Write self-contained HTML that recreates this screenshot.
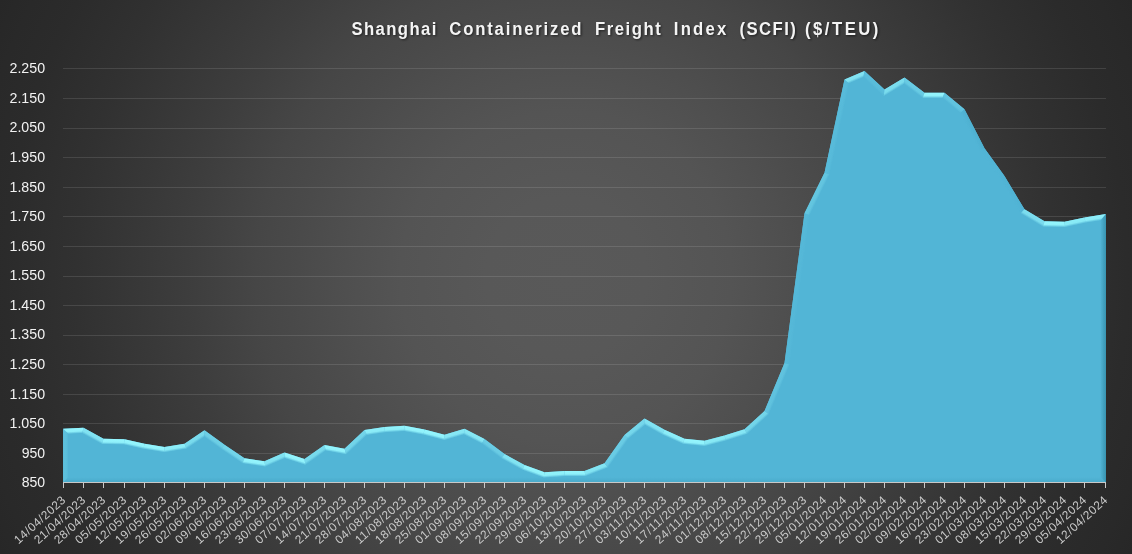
<!DOCTYPE html>
<html><head><meta charset="utf-8"><title>Shanghai Containerized Freight Index (SCFI)</title>
<style>
html,body{margin:0;padding:0;background:#2a2a2a;}
body{width:1132px;height:554px;overflow:hidden;font-family:"Liberation Sans",sans-serif;}
svg{display:block}
text{font-family:"Liberation Sans",sans-serif;}
</style></head><body>
<svg width="1132" height="554" viewBox="0 0 1132 554">
<defs>
<radialGradient id="bg" gradientUnits="userSpaceOnUse" cx="566" cy="277" r="630.2">
<stop offset="0.0000" stop-color="rgb(89,89,89)"/>
<stop offset="0.1269" stop-color="rgb(88,88,88)"/>
<stop offset="0.2634" stop-color="rgb(84,84,84)"/>
<stop offset="0.3491" stop-color="rgb(79,79,79)"/>
<stop offset="0.4253" stop-color="rgb(74,74,74)"/>
<stop offset="0.4919" stop-color="rgb(70,70,70)"/>
<stop offset="0.5411" stop-color="rgb(66,66,66)"/>
<stop offset="0.6030" stop-color="rgb(61,61,61)"/>
<stop offset="0.6601" stop-color="rgb(57,57,57)"/>
<stop offset="0.7775" stop-color="rgb(49,49,49)"/>
<stop offset="0.8902" stop-color="rgb(43,43,43)"/>
<stop offset="0.9521" stop-color="rgb(41,41,41)"/>
<stop offset="1.0000" stop-color="rgb(39,39,39)"/>
</radialGradient>
<clipPath id="ac"><polygon points="63.10,482.55 63.10,428.75 83.50,427.73 103.50,438.81 124.50,439.24 144.50,443.64 164.50,446.91 184.50,443.64 204.50,430.22 224.50,444.71 244.50,458.23 264.50,461.20 284.50,452.50 304.50,458.99 324.50,444.93 344.50,448.69 364.50,430.06 384.50,427.07 404.50,425.81 424.50,429.54 444.50,434.64 464.50,428.74 484.50,438.96 504.50,453.96 524.50,464.93 544.50,472.31 564.50,470.92 584.50,470.92 604.50,463.17 624.50,435.00 644.50,418.59 664.50,429.76 684.50,438.76 704.50,440.75 724.50,435.53 744.50,429.18 764.50,410.98 784.50,363.07 804.50,213.34 824.50,172.66 844.50,79.38 864.50,70.89 884.50,89.61 904.50,77.38 924.50,92.64 944.50,92.64 964.50,109.37 984.50,148.18 1004.50,175.89 1024.50,209.37 1044.50,221.35 1064.50,221.82 1084.50,217.53 1105.90,214.09 1105.90,482.55"/></clipPath>
<filter id="b1" x="-5%" y="-5%" width="110%" height="110%"><feGaussianBlur stdDeviation="0.4"/></filter>
<filter id="ts" x="-5%" y="-50%" width="110%" height="200%"><feGaussianBlur stdDeviation="1.2"/></filter>
</defs>
<rect width="1132" height="554" fill="url(#bg)"/>

<g stroke="#ffffff" stroke-opacity="0.115" stroke-width="1" shape-rendering="crispEdges">
<line x1="63" y1="453.5" x2="1106" y2="453.5"/>
<line x1="63" y1="423.5" x2="1106" y2="423.5"/>
<line x1="63" y1="394.5" x2="1106" y2="394.5"/>
<line x1="63" y1="364.5" x2="1106" y2="364.5"/>
<line x1="63" y1="335.5" x2="1106" y2="335.5"/>
<line x1="63" y1="305.5" x2="1106" y2="305.5"/>
<line x1="63" y1="276.5" x2="1106" y2="276.5"/>
<line x1="63" y1="246.5" x2="1106" y2="246.5"/>
<line x1="63" y1="216.5" x2="1106" y2="216.5"/>
<line x1="63" y1="187.5" x2="1106" y2="187.5"/>
<line x1="63" y1="157.5" x2="1106" y2="157.5"/>
<line x1="63" y1="128.5" x2="1106" y2="128.5"/>
<line x1="63" y1="98.5" x2="1106" y2="98.5"/>
<line x1="63" y1="68.5" x2="1106" y2="68.5"/>
</g>
<polygon points="63.10,482.55 63.10,428.75 83.50,427.73 103.50,438.81 124.50,439.24 144.50,443.64 164.50,446.91 184.50,443.64 204.50,430.22 224.50,444.71 244.50,458.23 264.50,461.20 284.50,452.50 304.50,458.99 324.50,444.93 344.50,448.69 364.50,430.06 384.50,427.07 404.50,425.81 424.50,429.54 444.50,434.64 464.50,428.74 484.50,438.96 504.50,453.96 524.50,464.93 544.50,472.31 564.50,470.92 584.50,470.92 604.50,463.17 624.50,435.00 644.50,418.59 664.50,429.76 684.50,438.76 704.50,440.75 724.50,435.53 744.50,429.18 764.50,410.98 784.50,363.07 804.50,213.34 824.50,172.66 844.50,79.38 864.50,70.89 884.50,89.61 904.50,77.38 924.50,92.64 944.50,92.64 964.50,109.37 984.50,148.18 1004.50,175.89 1024.50,209.37 1044.50,221.35 1064.50,221.82 1084.50,217.53 1105.90,214.09 1105.90,482.55" fill="#52B5D6"/>
<defs><linearGradient id="g0" gradientUnits="userSpaceOnUse" x1="63.10" y1="455.65" x2="68.70" y2="455.65"><stop offset="0" stop-color="#5dc0dc"/><stop offset="0.58" stop-color="#5dc0dc" stop-opacity="0.9"/><stop offset="1" stop-color="#5dc0dc" stop-opacity="0"/></linearGradient><linearGradient id="g1" gradientUnits="userSpaceOnUse" x1="73.30" y1="428.24" x2="73.58" y2="433.83"><stop offset="0" stop-color="#94f5fd"/><stop offset="0.58" stop-color="#94f5fd" stop-opacity="0.9"/><stop offset="1" stop-color="#94f5fd" stop-opacity="0"/></linearGradient><linearGradient id="g2" gradientUnits="userSpaceOnUse" x1="93.50" y1="433.27" x2="90.79" y2="438.17"><stop offset="0" stop-color="#83e5f3"/><stop offset="0.58" stop-color="#83e5f3" stop-opacity="0.9"/><stop offset="1" stop-color="#83e5f3" stop-opacity="0"/></linearGradient><linearGradient id="g3" gradientUnits="userSpaceOnUse" x1="114.00" y1="439.03" x2="113.89" y2="444.63"><stop offset="0" stop-color="#96f7fe"/><stop offset="0.58" stop-color="#96f7fe" stop-opacity="0.9"/><stop offset="1" stop-color="#96f7fe" stop-opacity="0"/></linearGradient><linearGradient id="g4" gradientUnits="userSpaceOnUse" x1="134.50" y1="441.44" x2="133.30" y2="446.91"><stop offset="0" stop-color="#96f7fe"/><stop offset="0.58" stop-color="#96f7fe" stop-opacity="0.9"/><stop offset="1" stop-color="#96f7fe" stop-opacity="0"/></linearGradient><linearGradient id="g5" gradientUnits="userSpaceOnUse" x1="154.50" y1="445.28" x2="153.60" y2="450.80"><stop offset="0" stop-color="#96f7fe"/><stop offset="0.58" stop-color="#96f7fe" stop-opacity="0.9"/><stop offset="1" stop-color="#96f7fe" stop-opacity="0"/></linearGradient><linearGradient id="g6" gradientUnits="userSpaceOnUse" x1="174.50" y1="445.28" x2="175.40" y2="450.80"><stop offset="0" stop-color="#8ff0fa"/><stop offset="0.58" stop-color="#8ff0fa" stop-opacity="0.9"/><stop offset="1" stop-color="#8ff0fa" stop-opacity="0"/></linearGradient><linearGradient id="g7" gradientUnits="userSpaceOnUse" x1="194.50" y1="436.93" x2="197.62" y2="441.58"><stop offset="0" stop-color="#7bddee"/><stop offset="0.58" stop-color="#7bddee" stop-opacity="0.9"/><stop offset="1" stop-color="#7bddee" stop-opacity="0"/></linearGradient><linearGradient id="g8" gradientUnits="userSpaceOnUse" x1="214.50" y1="437.47" x2="211.21" y2="442.00"><stop offset="0" stop-color="#6ed0e6"/><stop offset="0.58" stop-color="#6ed0e6" stop-opacity="0.9"/><stop offset="1" stop-color="#6ed0e6" stop-opacity="0"/></linearGradient><linearGradient id="g9" gradientUnits="userSpaceOnUse" x1="234.50" y1="451.47" x2="231.36" y2="456.11"><stop offset="0" stop-color="#74d6ea"/><stop offset="0.58" stop-color="#74d6ea" stop-opacity="0.9"/><stop offset="1" stop-color="#74d6ea" stop-opacity="0"/></linearGradient><linearGradient id="g10" gradientUnits="userSpaceOnUse" x1="254.50" y1="459.71" x2="253.68" y2="465.25"><stop offset="0" stop-color="#96f7fe"/><stop offset="0.58" stop-color="#96f7fe" stop-opacity="0.9"/><stop offset="1" stop-color="#96f7fe" stop-opacity="0"/></linearGradient><linearGradient id="g11" gradientUnits="userSpaceOnUse" x1="274.50" y1="456.85" x2="276.73" y2="461.99"><stop offset="0" stop-color="#83e5f3"/><stop offset="0.58" stop-color="#83e5f3" stop-opacity="0.9"/><stop offset="1" stop-color="#83e5f3" stop-opacity="0"/></linearGradient><linearGradient id="g12" gradientUnits="userSpaceOnUse" x1="294.50" y1="455.75" x2="292.77" y2="461.07"><stop offset="0" stop-color="#96f7fe"/><stop offset="0.58" stop-color="#96f7fe" stop-opacity="0.9"/><stop offset="1" stop-color="#96f7fe" stop-opacity="0"/></linearGradient><linearGradient id="g13" gradientUnits="userSpaceOnUse" x1="314.50" y1="451.96" x2="317.72" y2="456.54"><stop offset="0" stop-color="#7adcee"/><stop offset="0.58" stop-color="#7adcee" stop-opacity="0.9"/><stop offset="1" stop-color="#7adcee" stop-opacity="0"/></linearGradient><linearGradient id="g14" gradientUnits="userSpaceOnUse" x1="334.50" y1="446.81" x2="333.47" y2="452.32"><stop offset="0" stop-color="#96f7fe"/><stop offset="0.58" stop-color="#96f7fe" stop-opacity="0.9"/><stop offset="1" stop-color="#96f7fe" stop-opacity="0"/></linearGradient><linearGradient id="g15" gradientUnits="userSpaceOnUse" x1="354.50" y1="439.38" x2="358.32" y2="443.47"><stop offset="0" stop-color="#74d6ea"/><stop offset="0.58" stop-color="#74d6ea" stop-opacity="0.9"/><stop offset="1" stop-color="#74d6ea" stop-opacity="0"/></linearGradient><linearGradient id="g16" gradientUnits="userSpaceOnUse" x1="374.50" y1="428.56" x2="375.33" y2="434.10"><stop offset="0" stop-color="#8ff0fa"/><stop offset="0.58" stop-color="#8ff0fa" stop-opacity="0.9"/><stop offset="1" stop-color="#8ff0fa" stop-opacity="0"/></linearGradient><linearGradient id="g17" gradientUnits="userSpaceOnUse" x1="394.50" y1="426.44" x2="394.85" y2="432.03"><stop offset="0" stop-color="#93f4fc"/><stop offset="0.58" stop-color="#93f4fc" stop-opacity="0.9"/><stop offset="1" stop-color="#93f4fc" stop-opacity="0"/></linearGradient><linearGradient id="g18" gradientUnits="userSpaceOnUse" x1="414.50" y1="427.67" x2="413.48" y2="433.18"><stop offset="0" stop-color="#96f7fe"/><stop offset="0.58" stop-color="#96f7fe" stop-opacity="0.9"/><stop offset="1" stop-color="#96f7fe" stop-opacity="0"/></linearGradient><linearGradient id="g19" gradientUnits="userSpaceOnUse" x1="434.50" y1="432.09" x2="433.11" y2="437.52"><stop offset="0" stop-color="#96f7fe"/><stop offset="0.58" stop-color="#96f7fe" stop-opacity="0.9"/><stop offset="1" stop-color="#96f7fe" stop-opacity="0"/></linearGradient><linearGradient id="g20" gradientUnits="userSpaceOnUse" x1="454.50" y1="431.69" x2="456.09" y2="437.06"><stop offset="0" stop-color="#89eaf6"/><stop offset="0.58" stop-color="#89eaf6" stop-opacity="0.9"/><stop offset="1" stop-color="#89eaf6" stop-opacity="0"/></linearGradient><linearGradient id="g21" gradientUnits="userSpaceOnUse" x1="474.50" y1="433.85" x2="471.95" y2="438.84"><stop offset="0" stop-color="#89eaf6"/><stop offset="0.58" stop-color="#89eaf6" stop-opacity="0.9"/><stop offset="1" stop-color="#89eaf6" stop-opacity="0"/></linearGradient><linearGradient id="g22" gradientUnits="userSpaceOnUse" x1="494.50" y1="446.46" x2="491.14" y2="450.94"><stop offset="0" stop-color="#6bcde5"/><stop offset="0.58" stop-color="#6bcde5" stop-opacity="0.9"/><stop offset="1" stop-color="#6bcde5" stop-opacity="0"/></linearGradient><linearGradient id="g23" gradientUnits="userSpaceOnUse" x1="514.50" y1="459.45" x2="511.81" y2="464.36"><stop offset="0" stop-color="#84e6f3"/><stop offset="0.58" stop-color="#84e6f3" stop-opacity="0.9"/><stop offset="1" stop-color="#84e6f3" stop-opacity="0"/></linearGradient><linearGradient id="g24" gradientUnits="userSpaceOnUse" x1="534.50" y1="468.62" x2="532.56" y2="473.88"><stop offset="0" stop-color="#95f6fd"/><stop offset="0.58" stop-color="#95f6fd" stop-opacity="0.9"/><stop offset="1" stop-color="#95f6fd" stop-opacity="0"/></linearGradient><linearGradient id="g25" gradientUnits="userSpaceOnUse" x1="554.50" y1="471.61" x2="554.89" y2="477.20"><stop offset="0" stop-color="#93f4fc"/><stop offset="0.58" stop-color="#93f4fc" stop-opacity="0.9"/><stop offset="1" stop-color="#93f4fc" stop-opacity="0"/></linearGradient><linearGradient id="g26" gradientUnits="userSpaceOnUse" x1="574.50" y1="470.92" x2="574.50" y2="476.52"><stop offset="0" stop-color="#96f7fe"/><stop offset="0.58" stop-color="#96f7fe" stop-opacity="0.9"/><stop offset="1" stop-color="#96f7fe" stop-opacity="0"/></linearGradient><linearGradient id="g27" gradientUnits="userSpaceOnUse" x1="594.50" y1="467.04" x2="596.52" y2="472.26"><stop offset="0" stop-color="#85e7f4"/><stop offset="0.58" stop-color="#85e7f4" stop-opacity="0.9"/><stop offset="1" stop-color="#85e7f4" stop-opacity="0"/></linearGradient><linearGradient id="g28" gradientUnits="userSpaceOnUse" x1="614.50" y1="449.08" x2="619.07" y2="452.32"><stop offset="0" stop-color="#6bcde5"/><stop offset="0.58" stop-color="#6bcde5" stop-opacity="0.9"/><stop offset="1" stop-color="#6bcde5" stop-opacity="0"/></linearGradient><linearGradient id="g29" gradientUnits="userSpaceOnUse" x1="634.50" y1="426.79" x2="638.05" y2="431.12"><stop offset="0" stop-color="#77d9ec"/><stop offset="0.58" stop-color="#77d9ec" stop-opacity="0.9"/><stop offset="1" stop-color="#77d9ec" stop-opacity="0"/></linearGradient><linearGradient id="g30" gradientUnits="userSpaceOnUse" x1="654.50" y1="424.18" x2="651.77" y2="429.07"><stop offset="0" stop-color="#83e4f3"/><stop offset="0.58" stop-color="#83e4f3" stop-opacity="0.9"/><stop offset="1" stop-color="#83e4f3" stop-opacity="0"/></linearGradient><linearGradient id="g31" gradientUnits="userSpaceOnUse" x1="674.50" y1="434.26" x2="672.20" y2="439.37"><stop offset="0" stop-color="#8ff0fa"/><stop offset="0.58" stop-color="#8ff0fa" stop-opacity="0.9"/><stop offset="1" stop-color="#8ff0fa" stop-opacity="0"/></linearGradient><linearGradient id="g32" gradientUnits="userSpaceOnUse" x1="694.50" y1="439.75" x2="693.95" y2="445.33"><stop offset="0" stop-color="#96f7fe"/><stop offset="0.58" stop-color="#96f7fe" stop-opacity="0.9"/><stop offset="1" stop-color="#96f7fe" stop-opacity="0"/></linearGradient><linearGradient id="g33" gradientUnits="userSpaceOnUse" x1="714.50" y1="438.14" x2="715.91" y2="443.56"><stop offset="0" stop-color="#8aecf7"/><stop offset="0.58" stop-color="#8aecf7" stop-opacity="0.9"/><stop offset="1" stop-color="#8aecf7" stop-opacity="0"/></linearGradient><linearGradient id="g34" gradientUnits="userSpaceOnUse" x1="734.50" y1="432.35" x2="736.19" y2="437.69"><stop offset="0" stop-color="#88e9f6"/><stop offset="0.58" stop-color="#88e9f6" stop-opacity="0.9"/><stop offset="1" stop-color="#88e9f6" stop-opacity="0"/></linearGradient><linearGradient id="g35" gradientUnits="userSpaceOnUse" x1="754.50" y1="420.08" x2="758.27" y2="424.22"><stop offset="0" stop-color="#75d7ea"/><stop offset="0.58" stop-color="#75d7ea" stop-opacity="0.9"/><stop offset="1" stop-color="#75d7ea" stop-opacity="0"/></linearGradient><linearGradient id="g36" gradientUnits="userSpaceOnUse" x1="774.50" y1="387.02" x2="779.67" y2="389.18"><stop offset="0" stop-color="#61c3df"/><stop offset="0.58" stop-color="#61c3df" stop-opacity="0.9"/><stop offset="1" stop-color="#61c3df" stop-opacity="0"/></linearGradient><linearGradient id="g37" gradientUnits="userSpaceOnUse" x1="794.50" y1="288.20" x2="800.05" y2="288.94"><stop offset="0" stop-color="#55b8d8"/><stop offset="0.58" stop-color="#55b8d8" stop-opacity="0.9"/><stop offset="1" stop-color="#55b8d8" stop-opacity="0"/></linearGradient><linearGradient id="g38" gradientUnits="userSpaceOnUse" x1="814.50" y1="193.00" x2="819.53" y2="195.47"><stop offset="0" stop-color="#64c6e0"/><stop offset="0.58" stop-color="#64c6e0" stop-opacity="0.9"/><stop offset="1" stop-color="#64c6e0" stop-opacity="0"/></linearGradient><linearGradient id="g39" gradientUnits="userSpaceOnUse" x1="834.50" y1="126.02" x2="839.98" y2="127.19"><stop offset="0" stop-color="#58bbda"/><stop offset="0.58" stop-color="#58bbda" stop-opacity="0.9"/><stop offset="1" stop-color="#58bbda" stop-opacity="0"/></linearGradient><linearGradient id="g40" gradientUnits="userSpaceOnUse" x1="854.50" y1="75.13" x2="856.69" y2="80.28"><stop offset="0" stop-color="#84e5f3"/><stop offset="0.58" stop-color="#84e5f3" stop-opacity="0.9"/><stop offset="1" stop-color="#84e5f3" stop-opacity="0"/></linearGradient><linearGradient id="g41" gradientUnits="userSpaceOnUse" x1="874.50" y1="80.25" x2="870.67" y2="84.34"><stop offset="0" stop-color="#5abddb"/><stop offset="0.58" stop-color="#5abddb" stop-opacity="0.9"/><stop offset="1" stop-color="#5abddb" stop-opacity="0"/></linearGradient><linearGradient id="g42" gradientUnits="userSpaceOnUse" x1="894.50" y1="83.50" x2="897.42" y2="88.27"><stop offset="0" stop-color="#7ddfef"/><stop offset="0.58" stop-color="#7ddfef" stop-opacity="0.9"/><stop offset="1" stop-color="#7ddfef" stop-opacity="0"/></linearGradient><linearGradient id="g43" gradientUnits="userSpaceOnUse" x1="914.50" y1="85.01" x2="911.10" y2="89.46"><stop offset="0" stop-color="#69cce4"/><stop offset="0.58" stop-color="#69cce4" stop-opacity="0.9"/><stop offset="1" stop-color="#69cce4" stop-opacity="0"/></linearGradient><linearGradient id="g44" gradientUnits="userSpaceOnUse" x1="934.50" y1="92.64" x2="934.50" y2="98.24"><stop offset="0" stop-color="#96f7fe"/><stop offset="0.58" stop-color="#96f7fe" stop-opacity="0.9"/><stop offset="1" stop-color="#96f7fe" stop-opacity="0"/></linearGradient><linearGradient id="g45" gradientUnits="userSpaceOnUse" x1="954.50" y1="101.00" x2="950.91" y2="105.30"><stop offset="0" stop-color="#62c4df"/><stop offset="0.58" stop-color="#62c4df" stop-opacity="0.9"/><stop offset="1" stop-color="#62c4df" stop-opacity="0"/></linearGradient><linearGradient id="g46" gradientUnits="userSpaceOnUse" x1="974.50" y1="128.78" x2="969.52" y2="131.34"><stop offset="0" stop-color="#4eb0d0"/><stop offset="1" stop-color="#4eb0d0" stop-opacity="0"/></linearGradient><linearGradient id="g47" gradientUnits="userSpaceOnUse" x1="994.50" y1="162.04" x2="989.96" y2="165.32"><stop offset="0" stop-color="#51b4d5"/><stop offset="1" stop-color="#51b4d5" stop-opacity="0"/></linearGradient><linearGradient id="g48" gradientUnits="userSpaceOnUse" x1="1014.50" y1="192.63" x2="1009.69" y2="195.51"><stop offset="0" stop-color="#50b2d3"/><stop offset="1" stop-color="#50b2d3" stop-opacity="0"/></linearGradient><linearGradient id="g49" gradientUnits="userSpaceOnUse" x1="1034.50" y1="215.36" x2="1031.62" y2="220.17"><stop offset="0" stop-color="#7edff0"/><stop offset="0.58" stop-color="#7edff0" stop-opacity="0.9"/><stop offset="1" stop-color="#7edff0" stop-opacity="0"/></linearGradient><linearGradient id="g50" gradientUnits="userSpaceOnUse" x1="1054.50" y1="221.58" x2="1054.37" y2="227.18"><stop offset="0" stop-color="#96f7fe"/><stop offset="0.58" stop-color="#96f7fe" stop-opacity="0.9"/><stop offset="1" stop-color="#96f7fe" stop-opacity="0"/></linearGradient><linearGradient id="g51" gradientUnits="userSpaceOnUse" x1="1074.50" y1="219.67" x2="1075.67" y2="225.15"><stop offset="0" stop-color="#8ceef8"/><stop offset="0.58" stop-color="#8ceef8" stop-opacity="0.9"/><stop offset="1" stop-color="#8ceef8" stop-opacity="0"/></linearGradient><linearGradient id="g52" gradientUnits="userSpaceOnUse" x1="1095.20" y1="215.81" x2="1096.09" y2="221.34"><stop offset="0" stop-color="#8ff0fa"/><stop offset="0.58" stop-color="#8ff0fa" stop-opacity="0.9"/><stop offset="1" stop-color="#8ff0fa" stop-opacity="0"/></linearGradient><linearGradient id="g53" gradientUnits="userSpaceOnUse" x1="1105.90" y1="348.32" x2="1100.30" y2="348.32"><stop offset="0" stop-color="#3793b0"/><stop offset="1" stop-color="#3793b0" stop-opacity="0"/></linearGradient><linearGradient id="g54" gradientUnits="userSpaceOnUse" x1="584.50" y1="482.55" x2="584.50" y2="476.95"><stop offset="0" stop-color="#4aaaca"/><stop offset="1" stop-color="#4aaaca" stop-opacity="0"/></linearGradient></defs>
<g clip-path="url(#ac)"><g filter="url(#b1)">
<polygon points="61.10,482.55 61.10,428.75 63.10,428.75 68.70,434.08 68.70,476.95 63.10,482.55" fill="url(#g0)"/>
<polygon points="63.00,426.75 83.40,425.74 83.50,427.73 82.18,433.41 68.70,434.08 63.10,428.75" fill="url(#g1)"/>
<polygon points="84.47,425.98 104.47,437.06 103.50,438.81 102.00,444.38 82.18,433.41 83.50,427.73" fill="url(#g2)"/>
<polygon points="103.54,436.81 124.54,437.24 124.50,439.24 123.83,444.83 102.00,444.38 103.50,438.81" fill="url(#g3)"/>
<polygon points="124.93,437.29 144.93,441.69 144.50,443.64 143.45,449.14 123.83,444.83 124.50,439.24" fill="url(#g4)"/>
<polygon points="144.82,441.67 164.82,444.94 164.50,446.91 164.50,452.58 143.45,449.14 144.50,443.64" fill="url(#g5)"/>
<polygon points="164.18,444.94 184.18,441.67 184.50,443.64 186.61,448.97 164.50,452.58 164.50,446.91" fill="url(#g6)"/>
<polygon points="183.39,441.98 203.39,428.56 204.50,430.22 204.38,437.04 186.61,448.97 184.50,443.64" fill="url(#g7)"/>
<polygon points="205.67,428.60 225.67,443.09 224.50,444.71 221.29,449.30 204.38,437.04 204.50,430.22" fill="url(#g8)"/>
<polygon points="225.62,443.06 245.62,456.57 244.50,458.23 242.42,463.58 221.29,449.30 224.50,444.71" fill="url(#g9)"/>
<polygon points="244.79,456.25 264.79,459.22 264.50,461.20 265.26,466.98 242.42,463.58 244.50,458.23" fill="url(#g10)"/>
<polygon points="263.70,459.37 283.70,450.67 284.50,452.50 284.79,458.48 265.26,466.98 264.50,461.20" fill="url(#g11)"/>
<polygon points="285.12,450.60 305.12,457.09 304.50,458.99 305.43,465.18 284.79,458.48 284.50,452.50" fill="url(#g12)"/>
<polygon points="303.35,457.36 323.35,443.30 324.50,444.93 325.79,450.87 305.43,465.18 304.50,458.99" fill="url(#g13)"/>
<polygon points="324.87,442.97 344.87,446.72 344.50,448.69 346.25,454.72 325.79,450.87 324.50,444.93" fill="url(#g14)"/>
<polygon points="343.14,447.23 363.14,428.60 364.50,430.06 367.05,435.34 346.25,454.72 344.50,448.69" fill="url(#g15)"/>
<polygon points="364.20,428.08 384.20,425.09 384.50,427.07 385.09,432.64 367.05,435.34 364.50,430.06" fill="url(#g16)"/>
<polygon points="384.38,425.07 404.38,423.82 404.50,425.81 404.16,431.45 385.09,432.64 384.50,427.07" fill="url(#g17)"/>
<polygon points="404.87,423.85 424.87,427.57 424.50,429.54 423.29,435.01 404.16,431.45 404.50,425.81" fill="url(#g18)"/>
<polygon points="425.00,427.60 445.00,432.71 444.50,434.64 444.61,440.45 423.29,435.01 424.50,429.54" fill="url(#g19)"/>
<polygon points="443.93,432.73 463.93,426.82 464.50,428.74 463.94,434.75 444.61,440.45 444.50,434.64" fill="url(#g20)"/>
<polygon points="465.41,426.96 485.41,437.18 484.50,438.96 481.52,443.72 463.94,434.75 464.50,428.74" fill="url(#g21)"/>
<polygon points="485.70,437.36 505.70,452.36 504.50,453.96 501.46,458.68 481.52,443.72 484.50,438.96" fill="url(#g22)"/>
<polygon points="505.46,452.21 525.46,463.18 524.50,464.93 522.17,470.04 501.46,458.68 504.50,453.96" fill="url(#g23)"/>
<polygon points="525.19,463.06 545.19,470.43 544.50,472.31 543.69,477.98 522.17,470.04 524.50,464.93" fill="url(#g24)"/>
<polygon points="544.36,470.32 564.36,468.92 564.50,470.92 564.70,476.52 543.69,477.98 544.50,472.31" fill="url(#g25)"/>
<polygon points="564.50,468.92 584.50,468.92 584.50,470.92 585.55,476.52 564.70,476.52 564.50,470.92" fill="url(#g26)"/>
<polygon points="583.78,469.05 603.78,461.30 604.50,463.17 608.09,467.78 585.55,476.52 584.50,470.92" fill="url(#g27)"/>
<polygon points="602.87,462.01 622.87,433.84 624.50,435.00 628.63,438.85 608.09,467.78 604.50,463.17" fill="url(#g28)"/>
<polygon points="623.23,433.45 643.23,417.04 644.50,418.59 645.10,425.34 628.63,438.85 624.50,435.00" fill="url(#g29)"/>
<polygon points="645.48,416.84 665.48,428.01 664.50,429.76 661.98,434.77 645.10,425.34 644.50,418.59" fill="url(#g30)"/>
<polygon points="665.32,427.94 685.32,436.93 684.50,438.76 683.04,444.24 661.98,434.77 664.50,429.76" fill="url(#g31)"/>
<polygon points="684.70,436.77 704.70,438.76 704.50,440.75 704.94,446.42 683.04,444.24 684.50,438.76" fill="url(#g32)"/>
<polygon points="703.99,438.81 723.99,433.59 724.50,435.53 726.06,440.91 704.94,446.42 704.50,440.75" fill="url(#g33)"/>
<polygon points="723.89,433.62 743.89,427.27 744.50,429.18 747.36,434.14 726.06,440.91 724.50,435.53" fill="url(#g34)"/>
<polygon points="743.15,427.70 763.15,409.50 764.50,410.98 769.19,414.29 747.36,434.14 744.50,429.18" fill="url(#g35)"/>
<polygon points="762.65,410.21 782.65,362.30 784.50,363.07 789.95,364.54 769.19,414.29 764.50,410.98" fill="url(#g36)"/>
<polygon points="782.52,362.80 802.52,213.07 804.50,213.34 809.93,214.98 789.95,364.54 784.50,363.07" fill="url(#g37)"/>
<polygon points="802.71,212.45 822.71,171.77 824.50,172.66 829.83,174.51 809.93,214.98 804.50,213.34" fill="url(#g38)"/>
<polygon points="822.54,172.24 842.54,78.96 844.50,79.38 849.37,83.39 829.83,174.51 824.50,172.66" fill="url(#g39)"/>
<polygon points="843.72,77.53 863.72,69.04 864.50,70.89 863.33,77.46 849.37,83.39 844.50,79.38" fill="url(#g40)"/>
<polygon points="865.87,69.43 885.87,88.15 884.50,89.61 883.78,96.62 863.33,77.46 864.50,70.89" fill="url(#g41)"/>
<polygon points="883.46,87.91 903.46,75.67 904.50,77.38 904.15,84.16 883.78,96.62 884.50,89.61" fill="url(#g42)"/>
<polygon points="905.71,75.79 925.71,91.05 924.50,92.64 922.61,98.24 904.15,84.16 904.50,77.38" fill="url(#g43)"/>
<polygon points="924.50,90.64 944.50,90.64 944.50,92.64 942.47,98.24 922.61,98.24 924.50,92.64" fill="url(#g44)"/>
<polygon points="945.78,91.10 965.78,107.84 964.50,109.37 960.04,112.94 942.47,98.24 944.50,92.64" fill="url(#g45)"/>
<polygon points="966.28,108.46 986.28,147.27 984.50,148.18 979.71,151.12 960.04,112.94 964.50,109.37" fill="url(#g46)"/>
<polygon points="986.12,147.01 1006.12,174.72 1004.50,175.89 999.82,178.98 979.71,151.12 984.50,148.18" fill="url(#g47)"/>
<polygon points="1006.22,174.87 1026.22,208.35 1024.50,209.37 1020.41,213.45 999.82,178.98 1004.50,175.89" fill="url(#g48)"/>
<polygon points="1025.53,207.66 1045.53,219.63 1044.50,221.35 1042.89,226.91 1020.41,213.45 1024.50,209.37" fill="url(#g49)"/>
<polygon points="1044.55,219.35 1064.55,219.82 1064.50,221.82 1065.03,227.43 1042.89,226.91 1044.50,221.35" fill="url(#g50)"/>
<polygon points="1064.08,219.86 1084.08,215.58 1084.50,217.53 1085.53,223.04 1065.03,227.43 1064.50,221.82" fill="url(#g51)"/>
<polygon points="1084.18,215.56 1105.58,212.11 1105.90,214.09 1100.30,220.66 1085.53,223.04 1084.50,217.53" fill="url(#g52)"/>
<polygon points="1107.90,214.09 1107.90,482.55 1105.90,482.55 1100.30,476.95 1100.30,220.66 1105.90,214.09" fill="url(#g53)"/>
<polygon points="1105.90,484.55 63.10,484.55 63.10,482.55 68.70,476.95 1100.30,476.95 1105.90,482.55" fill="url(#g54)"/>
</g></g>
<g stroke="#c8c8c8" stroke-width="1" shape-rendering="crispEdges">
<line x1="63" y1="482.5" x2="1106" y2="482.5"/>
<line x1="63.5" y1="482" x2="63.5" y2="488"/>
<line x1="83.5" y1="482" x2="83.5" y2="488"/>
<line x1="103.5" y1="482" x2="103.5" y2="488"/>
<line x1="124.5" y1="482" x2="124.5" y2="488"/>
<line x1="144.5" y1="482" x2="144.5" y2="488"/>
<line x1="164.5" y1="482" x2="164.5" y2="488"/>
<line x1="184.5" y1="482" x2="184.5" y2="488"/>
<line x1="204.5" y1="482" x2="204.5" y2="488"/>
<line x1="224.5" y1="482" x2="224.5" y2="488"/>
<line x1="244.5" y1="482" x2="244.5" y2="488"/>
<line x1="264.5" y1="482" x2="264.5" y2="488"/>
<line x1="284.5" y1="482" x2="284.5" y2="488"/>
<line x1="304.5" y1="482" x2="304.5" y2="488"/>
<line x1="324.5" y1="482" x2="324.5" y2="488"/>
<line x1="344.5" y1="482" x2="344.5" y2="488"/>
<line x1="364.5" y1="482" x2="364.5" y2="488"/>
<line x1="384.5" y1="482" x2="384.5" y2="488"/>
<line x1="404.5" y1="482" x2="404.5" y2="488"/>
<line x1="424.5" y1="482" x2="424.5" y2="488"/>
<line x1="444.5" y1="482" x2="444.5" y2="488"/>
<line x1="464.5" y1="482" x2="464.5" y2="488"/>
<line x1="484.5" y1="482" x2="484.5" y2="488"/>
<line x1="504.5" y1="482" x2="504.5" y2="488"/>
<line x1="524.5" y1="482" x2="524.5" y2="488"/>
<line x1="544.5" y1="482" x2="544.5" y2="488"/>
<line x1="564.5" y1="482" x2="564.5" y2="488"/>
<line x1="584.5" y1="482" x2="584.5" y2="488"/>
<line x1="604.5" y1="482" x2="604.5" y2="488"/>
<line x1="624.5" y1="482" x2="624.5" y2="488"/>
<line x1="644.5" y1="482" x2="644.5" y2="488"/>
<line x1="664.5" y1="482" x2="664.5" y2="488"/>
<line x1="684.5" y1="482" x2="684.5" y2="488"/>
<line x1="704.5" y1="482" x2="704.5" y2="488"/>
<line x1="724.5" y1="482" x2="724.5" y2="488"/>
<line x1="744.5" y1="482" x2="744.5" y2="488"/>
<line x1="764.5" y1="482" x2="764.5" y2="488"/>
<line x1="784.5" y1="482" x2="784.5" y2="488"/>
<line x1="804.5" y1="482" x2="804.5" y2="488"/>
<line x1="824.5" y1="482" x2="824.5" y2="488"/>
<line x1="844.5" y1="482" x2="844.5" y2="488"/>
<line x1="864.5" y1="482" x2="864.5" y2="488"/>
<line x1="884.5" y1="482" x2="884.5" y2="488"/>
<line x1="904.5" y1="482" x2="904.5" y2="488"/>
<line x1="924.5" y1="482" x2="924.5" y2="488"/>
<line x1="944.5" y1="482" x2="944.5" y2="488"/>
<line x1="964.5" y1="482" x2="964.5" y2="488"/>
<line x1="984.5" y1="482" x2="984.5" y2="488"/>
<line x1="1004.5" y1="482" x2="1004.5" y2="488"/>
<line x1="1024.5" y1="482" x2="1024.5" y2="488"/>
<line x1="1044.5" y1="482" x2="1044.5" y2="488"/>
<line x1="1064.5" y1="482" x2="1064.5" y2="488"/>
<line x1="1084.5" y1="482" x2="1084.5" y2="488"/>
<line x1="1105.5" y1="482" x2="1105.5" y2="488"/>
</g>
<g fill="#f2f2f2" font-size="14px" text-anchor="end">
<text x="45.1" y="487.35" textLength="23.4" lengthAdjust="spacingAndGlyphs">850</text>
<text x="45.1" y="457.77" textLength="23.4" lengthAdjust="spacingAndGlyphs">950</text>
<text x="45.1" y="428.19" textLength="35.6" lengthAdjust="spacingAndGlyphs">1.050</text>
<text x="45.1" y="398.61" textLength="35.6" lengthAdjust="spacingAndGlyphs">1.150</text>
<text x="45.1" y="369.04" textLength="35.6" lengthAdjust="spacingAndGlyphs">1.250</text>
<text x="45.1" y="339.46" textLength="35.6" lengthAdjust="spacingAndGlyphs">1.350</text>
<text x="45.1" y="309.88" textLength="35.6" lengthAdjust="spacingAndGlyphs">1.450</text>
<text x="45.1" y="280.30" textLength="35.6" lengthAdjust="spacingAndGlyphs">1.550</text>
<text x="45.1" y="250.72" textLength="35.6" lengthAdjust="spacingAndGlyphs">1.650</text>
<text x="45.1" y="221.14" textLength="35.6" lengthAdjust="spacingAndGlyphs">1.750</text>
<text x="45.1" y="191.56" textLength="35.6" lengthAdjust="spacingAndGlyphs">1.850</text>
<text x="45.1" y="161.99" textLength="35.6" lengthAdjust="spacingAndGlyphs">1.950</text>
<text x="45.1" y="132.41" textLength="35.6" lengthAdjust="spacingAndGlyphs">2.050</text>
<text x="45.1" y="102.83" textLength="35.6" lengthAdjust="spacingAndGlyphs">2.150</text>
<text x="45.1" y="73.25" textLength="35.6" lengthAdjust="spacingAndGlyphs">2.250</text>
</g>
<g fill="#cacaca" font-size="11.9px" text-anchor="end">
<text transform="translate(63.50,498.3) rotate(-42)" y="4.1" textLength="64.4" lengthAdjust="spacing">14/04/2023</text>
<text transform="translate(83.50,498.3) rotate(-42)" y="4.1" textLength="64.4" lengthAdjust="spacing">21/04/2023</text>
<text transform="translate(103.50,498.3) rotate(-42)" y="4.1" textLength="64.4" lengthAdjust="spacing">28/04/2023</text>
<text transform="translate(124.50,498.3) rotate(-42)" y="4.1" textLength="64.4" lengthAdjust="spacing">05/05/2023</text>
<text transform="translate(144.50,498.3) rotate(-42)" y="4.1" textLength="64.4" lengthAdjust="spacing">12/05/2023</text>
<text transform="translate(164.50,498.3) rotate(-42)" y="4.1" textLength="64.4" lengthAdjust="spacing">19/05/2023</text>
<text transform="translate(184.50,498.3) rotate(-42)" y="4.1" textLength="64.4" lengthAdjust="spacing">26/05/2023</text>
<text transform="translate(204.50,498.3) rotate(-42)" y="4.1" textLength="64.4" lengthAdjust="spacing">02/06/2023</text>
<text transform="translate(224.50,498.3) rotate(-42)" y="4.1" textLength="64.4" lengthAdjust="spacing">09/06/2023</text>
<text transform="translate(244.50,498.3) rotate(-42)" y="4.1" textLength="64.4" lengthAdjust="spacing">16/06/2023</text>
<text transform="translate(264.50,498.3) rotate(-42)" y="4.1" textLength="64.4" lengthAdjust="spacing">23/06/2023</text>
<text transform="translate(284.50,498.3) rotate(-42)" y="4.1" textLength="64.4" lengthAdjust="spacing">30/06/2023</text>
<text transform="translate(304.50,498.3) rotate(-42)" y="4.1" textLength="64.4" lengthAdjust="spacing">07/07/2023</text>
<text transform="translate(324.50,498.3) rotate(-42)" y="4.1" textLength="64.4" lengthAdjust="spacing">14/07/2023</text>
<text transform="translate(344.50,498.3) rotate(-42)" y="4.1" textLength="64.4" lengthAdjust="spacing">21/07/2023</text>
<text transform="translate(364.50,498.3) rotate(-42)" y="4.1" textLength="64.4" lengthAdjust="spacing">28/07/2023</text>
<text transform="translate(384.50,498.3) rotate(-42)" y="4.1" textLength="64.4" lengthAdjust="spacing">04/08/2023</text>
<text transform="translate(404.50,498.3) rotate(-42)" y="4.1" textLength="64.4" lengthAdjust="spacing">11/08/2023</text>
<text transform="translate(424.50,498.3) rotate(-42)" y="4.1" textLength="64.4" lengthAdjust="spacing">18/08/2023</text>
<text transform="translate(444.50,498.3) rotate(-42)" y="4.1" textLength="64.4" lengthAdjust="spacing">25/08/2023</text>
<text transform="translate(464.50,498.3) rotate(-42)" y="4.1" textLength="64.4" lengthAdjust="spacing">01/09/2023</text>
<text transform="translate(484.50,498.3) rotate(-42)" y="4.1" textLength="64.4" lengthAdjust="spacing">08/09/2023</text>
<text transform="translate(504.50,498.3) rotate(-42)" y="4.1" textLength="64.4" lengthAdjust="spacing">15/09/2023</text>
<text transform="translate(524.50,498.3) rotate(-42)" y="4.1" textLength="64.4" lengthAdjust="spacing">22/09/2023</text>
<text transform="translate(544.50,498.3) rotate(-42)" y="4.1" textLength="64.4" lengthAdjust="spacing">29/09/2023</text>
<text transform="translate(564.50,498.3) rotate(-42)" y="4.1" textLength="64.4" lengthAdjust="spacing">06/10/2023</text>
<text transform="translate(584.50,498.3) rotate(-42)" y="4.1" textLength="64.4" lengthAdjust="spacing">13/10/2023</text>
<text transform="translate(604.50,498.3) rotate(-42)" y="4.1" textLength="64.4" lengthAdjust="spacing">20/10/2023</text>
<text transform="translate(624.50,498.3) rotate(-42)" y="4.1" textLength="64.4" lengthAdjust="spacing">27/10/2023</text>
<text transform="translate(644.50,498.3) rotate(-42)" y="4.1" textLength="64.4" lengthAdjust="spacing">03/11/2023</text>
<text transform="translate(664.50,498.3) rotate(-42)" y="4.1" textLength="64.4" lengthAdjust="spacing">10/11/2023</text>
<text transform="translate(684.50,498.3) rotate(-42)" y="4.1" textLength="64.4" lengthAdjust="spacing">17/11/2023</text>
<text transform="translate(704.50,498.3) rotate(-42)" y="4.1" textLength="64.4" lengthAdjust="spacing">24/11/2023</text>
<text transform="translate(724.50,498.3) rotate(-42)" y="4.1" textLength="64.4" lengthAdjust="spacing">01/12/2023</text>
<text transform="translate(744.50,498.3) rotate(-42)" y="4.1" textLength="64.4" lengthAdjust="spacing">08/12/2023</text>
<text transform="translate(764.50,498.3) rotate(-42)" y="4.1" textLength="64.4" lengthAdjust="spacing">15/12/2023</text>
<text transform="translate(784.50,498.3) rotate(-42)" y="4.1" textLength="64.4" lengthAdjust="spacing">22/12/2023</text>
<text transform="translate(804.50,498.3) rotate(-42)" y="4.1" textLength="64.4" lengthAdjust="spacing">29/12/2023</text>
<text transform="translate(824.50,498.3) rotate(-42)" y="4.1" textLength="64.4" lengthAdjust="spacing">05/01/2024</text>
<text transform="translate(844.50,498.3) rotate(-42)" y="4.1" textLength="64.4" lengthAdjust="spacing">12/01/2024</text>
<text transform="translate(864.50,498.3) rotate(-42)" y="4.1" textLength="64.4" lengthAdjust="spacing">19/01/2024</text>
<text transform="translate(884.50,498.3) rotate(-42)" y="4.1" textLength="64.4" lengthAdjust="spacing">26/01/2024</text>
<text transform="translate(904.50,498.3) rotate(-42)" y="4.1" textLength="64.4" lengthAdjust="spacing">02/02/2024</text>
<text transform="translate(924.50,498.3) rotate(-42)" y="4.1" textLength="64.4" lengthAdjust="spacing">09/02/2024</text>
<text transform="translate(944.50,498.3) rotate(-42)" y="4.1" textLength="64.4" lengthAdjust="spacing">16/02/2024</text>
<text transform="translate(964.50,498.3) rotate(-42)" y="4.1" textLength="64.4" lengthAdjust="spacing">23/02/2024</text>
<text transform="translate(984.50,498.3) rotate(-42)" y="4.1" textLength="64.4" lengthAdjust="spacing">01/03/2024</text>
<text transform="translate(1004.50,498.3) rotate(-42)" y="4.1" textLength="64.4" lengthAdjust="spacing">08/03/2024</text>
<text transform="translate(1024.50,498.3) rotate(-42)" y="4.1" textLength="64.4" lengthAdjust="spacing">15/03/2024</text>
<text transform="translate(1044.50,498.3) rotate(-42)" y="4.1" textLength="64.4" lengthAdjust="spacing">22/03/2024</text>
<text transform="translate(1064.50,498.3) rotate(-42)" y="4.1" textLength="64.4" lengthAdjust="spacing">29/03/2024</text>
<text transform="translate(1084.50,498.3) rotate(-42)" y="4.1" textLength="64.4" lengthAdjust="spacing">05/04/2024</text>
<text transform="translate(1105.50,498.3) rotate(-42)" y="4.1" textLength="64.4" lengthAdjust="spacing">12/04/2024</text>
</g>
<g font-size="17.6px" font-weight="bold" fill="#000" fill-opacity="0.55" filter="url(#ts)" transform="translate(1.2,1.4)">
<text transform="translate(351.4,34.9) scale(0.95,1)" textLength="89.5" lengthAdjust="spacing">Shanghai</text>
<text transform="translate(449.3,34.9) scale(0.95,1)" textLength="139.2" lengthAdjust="spacing">Containerized</text>
<text transform="translate(595.1,34.9) scale(0.95,1)" textLength="69.1" lengthAdjust="spacing">Freight</text>
<text transform="translate(673.8,34.9) scale(0.95,1)" textLength="55.3" lengthAdjust="spacing">Index</text>
<text transform="translate(739.4,34.9) scale(0.95,1)" textLength="59.4" lengthAdjust="spacing">(SCFI)</text>
<text transform="translate(805.0,34.9) scale(0.95,1)" textLength="77.3" lengthAdjust="spacing">($/TEU)</text>
</g>
<g font-size="17.6px" font-weight="bold" fill="#f4f4f4" transform="translate(0,0)">
<text transform="translate(351.4,34.9) scale(0.95,1)" textLength="89.5" lengthAdjust="spacing">Shanghai</text>
<text transform="translate(449.3,34.9) scale(0.95,1)" textLength="139.2" lengthAdjust="spacing">Containerized</text>
<text transform="translate(595.1,34.9) scale(0.95,1)" textLength="69.1" lengthAdjust="spacing">Freight</text>
<text transform="translate(673.8,34.9) scale(0.95,1)" textLength="55.3" lengthAdjust="spacing">Index</text>
<text transform="translate(739.4,34.9) scale(0.95,1)" textLength="59.4" lengthAdjust="spacing">(SCFI)</text>
<text transform="translate(805.0,34.9) scale(0.95,1)" textLength="77.3" lengthAdjust="spacing">($/TEU)</text>
</g>
</svg></body></html>
